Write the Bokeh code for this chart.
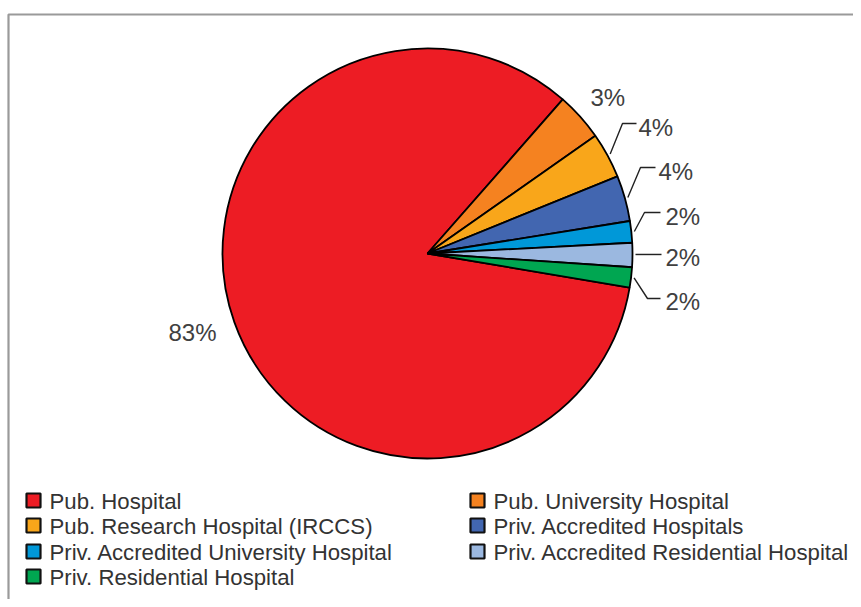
import math
from bokeh.plotting import figure
from bokeh.models import Range1d, ColumnDataSource
from bokeh.core.properties import value
from bokeh.embed import file_html
from bokeh.resources import INLINE

# ---- data ----
categories = ["Pub. Hospital", "Pub. University Hospital", "Pub. Research Hospital (IRCCS)",
              "Priv. Accredited Hospitals", "Priv. Accredited University Hospital",
              "Priv. Accredited Residential Hospital", "Priv. Residential Hospital"]
shares = [83.8, 3.8, 3.6, 3.6, 1.7, 1.9, 1.6]
pct_labels = ["83%", "3%", "4%", "4%", "2%", "2%", "2%"]
colors = ["#ED1C24", "#F58220", "#F9A61A", "#4266B0", "#0098D8", "#9BB8E0", "#00A651"]

W, H = 853, 599
FONT = "Liberation Sans"

def X(ix):
    return ix

def Y(iy):
    return H - iy

p = figure(width=W, height=H, output_backend="svg", toolbar_location=None,
           x_range=Range1d(0, W), y_range=Range1d(0, H), min_border=0)
p.axis.visible = False
p.grid.visible = False
p.outline_line_color = None
p.background_fill_color = "white"

# frame (left and top borders, cropped at right/bottom)
p.line(x=[X(8), X(8), X(870)], y=[Y(620), Y(14), Y(14)], line_color="#9a9a9a", line_width=2.2)

# ---- pie ----
cx, cy, R = X(427), Y(253), 205
start = -9.6
total = sum(shares)
starts, ends = [], []
a = start
for v in shares:
    span = v / total * 360.0
    starts.append(a)
    ends.append(a - span)
    a -= span
src = ColumnDataSource(dict(start=starts, end=ends, color=colors))
p.wedge(x=cx, y=cy, radius=R, start_angle="start", end_angle="end",
        start_angle_units="deg", end_angle_units="deg", direction="clock",
        fill_color="color", line_color="black", line_width=1.8, source=src)

mids = [(s + e) / 2 for s, e in zip(starts, ends)]

# ---- labels (layout positions in image px) ----
label_xy = [(168, 332), (590, 97), (638, 127), (658, 171), (665, 216), (665, 257), (665, 301)]
elbows = [None, None, (622, 123), (640, 167), (644, 212), None, (647, 298)]
line_ends = [None, None, (636, 123), (655, 167), (660, 212), (661, 254), (660, 298)]

lx, ly = [], []
for i in range(len(shares)):
    if line_ends[i] is None:
        continue
    m = math.radians(mids[i])
    ax_, ay_ = cx + (R + 3) * math.cos(m), cy + (R + 3) * math.sin(m)
    xs, ys = [ax_], [ay_]
    if elbows[i] is not None:
        xs.append(X(elbows[i][0])); ys.append(Y(elbows[i][1]))
    else:
        ys[0] = Y(line_ends[i][1])
    xs.append(X(line_ends[i][0])); ys.append(Y(line_ends[i][1]))
    lx.append(xs); ly.append(ys)
p.multi_line(xs=lx, ys=ly, line_color="#222222", line_width=1.4)

p.text(x=[X(a_) for a_, b_ in label_xy], y=[Y(b_) for a_, b_ in label_xy], text=pct_labels,
       text_font=value(FONT), text_font_size="24px", text_color="#404040",
       text_align="left", text_baseline="middle")

# ---- legend ----
col_x = [25, 469]
row_y = [500, 525, 551, 576]
sq_x, sq_y, tx, ty = [], [], [], []
for i, cat in enumerate(categories):
    c = i % 2
    r = i // 2
    sq_x.append(X(col_x[c] + 8)); sq_y.append(Y(row_y[r]))
    tx.append(X(col_x[c] + 24)); ty.append(Y(row_y[r] + 1))
p.rect(x=sq_x, y=sq_y, width=14, height=14, fill_color=colors, line_color="#111111",
       line_width=2.2)
p.text(x=tx, y=ty, text=categories, text_font=value(FONT), text_font_size="22.2px",
       text_color="#333333", text_align="left", text_baseline="middle")

open("out.html", "w").write(file_html(p, INLINE))
